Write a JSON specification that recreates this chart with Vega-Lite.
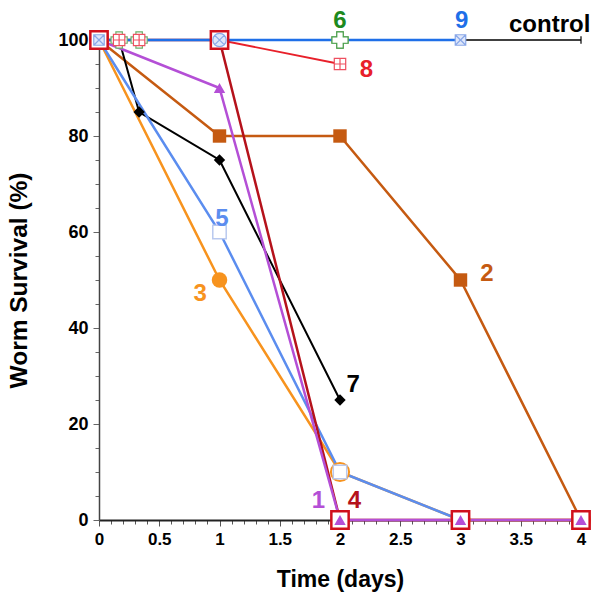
{
  "$schema": "https://vega.github.io/schema/vega-lite/v6.json",
  "width": 482,
  "height": 480,
  "autosize": "none",
  "padding": {"left": 99, "top": 40, "right": 21, "bottom": 78},
  "background": "white",
  "config": {"view": {"stroke": null}, "font": "Liberation Sans"},
  "datasets": {
    "control": [{"t": 0, "s": 100}, {"t": 4, "s": 100}],
    "s9": [{"t": 0, "s": 100}, {"t": 1, "s": 100}, {"t": 3, "s": 100}],
    "s6": [{"t": 0, "s": 100}, {"t": 0.167, "s": 100}, {"t": 0.333, "s": 100}, {"t": 2, "s": 100}],
    "s8": [{"t": 0, "s": 100}, {"t": 0.167, "s": 100}, {"t": 0.333, "s": 100}, {"t": 1, "s": 100}, {"t": 2, "s": 95}],
    "s2": [{"t": 0, "s": 100}, {"t": 1, "s": 80}, {"t": 2, "s": 80}, {"t": 3, "s": 50}, {"t": 4, "s": 0}],
    "s7": [{"t": 0, "s": 100}, {"t": 0.167, "s": 100}, {"t": 0.333, "s": 85}, {"t": 1, "s": 75}, {"t": 2, "s": 25}],
    "s5": [{"t": 0, "s": 100}, {"t": 1, "s": 60}, {"t": 2, "s": 10}, {"t": 3, "s": 0}],
    "s3": [{"t": 0, "s": 100}, {"t": 1, "s": 50}, {"t": 2, "s": 10}, {"t": 3, "s": 0}, {"t": 4, "s": 0}],
    "s1": [{"t": 0, "s": 100}, {"t": 1, "s": 90}, {"t": 2, "s": 0}, {"t": 3, "s": 0}, {"t": 4, "s": 0}],
    "s4": [{"t": 0, "s": 100}, {"t": 1, "s": 100}, {"t": 2, "s": 0}, {"t": 3, "s": 0}, {"t": 4, "s": 0}],
    "labels": [
      {"label": "6", "t": 2.0, "s": 102.5, "series": "6"},
      {"label": "9", "t": 3.01, "s": 102.5, "series": "9"},
      {"label": "control", "t": 3.74, "s": 101.7, "series": "control"},
      {"label": "8", "t": 2.22, "s": 92.3, "series": "8"},
      {"label": "2", "t": 3.22, "s": 49.8, "series": "2"},
      {"label": "7", "t": 2.11, "s": 26.7, "series": "7"},
      {"label": "5", "t": 1.02, "s": 61.3, "series": "5"},
      {"label": "3", "t": 0.84, "s": 45.6, "series": "3"},
      {"label": "1", "t": 1.82, "s": 2.4, "series": "1"},
      {"label": "4", "t": 2.12, "s": 2.4, "series": "4"}
    ]
  },
  "encoding": {
    "x": {
      "field": "t", "type": "quantitative",
      "scale": {"domain": [0, 4], "nice": false, "zero": false},
      "axis": {
        "title": "Time (days)",
        "values": [0, 0.1, 0.2, 0.3, 0.4, 0.5, 0.6, 0.7, 0.8, 0.9, 1, 1.1, 1.2, 1.3, 1.4, 1.5, 1.6, 1.7, 1.8, 1.9, 2, 2.1, 2.2, 2.3, 2.4, 2.5, 2.6, 2.7, 2.8, 2.9, 3, 3.1, 3.2, 3.3, 3.4, 3.5, 3.6, 3.7, 3.8, 3.9, 4],
        "labelExpr": "abs(datum.value*2 - round(datum.value*2)) < 0.001 ? '' + datum.value : ''",
        "tickSize": {"condition": {"test": "abs(datum.value*2 - round(datum.value*2)) < 0.001", "value": 6}, "value": 4},
        "grid": false,
        "domainColor": "#222222",
        "domainWidth": 1.8,
        "tickColor": "#555555",
        "labelFont": "Liberation Sans",
        "labelFontWeight": "bold",
        "labelFontSize": 17,
        "labelColor": "black",
        "labelPadding": 5,
        "labelFlush": false,
        "labelOverlap": false,
        "titleFont": "Liberation Sans",
        "titleFontWeight": "bold",
        "titleFontSize": 23,
        "titleColor": "black",
        "titleBaseline": "alphabetic",
        "titleY": 66
      }
    },
    "y": {
      "field": "s", "type": "quantitative",
      "scale": {"domain": [0, 100], "nice": false},
      "axis": {
        "title": "Worm Survival (%)",
        "values": [0, 5, 10, 15, 20, 25, 30, 35, 40, 45, 50, 55, 60, 65, 70, 75, 80, 85, 90, 95, 100],
        "labelExpr": "datum.value % 20 == 0 ? '' + datum.value : ''",
        "tickSize": {"condition": {"test": "datum.value % 20 == 0", "value": 6}, "value": 4},
        "grid": false,
        "domainColor": "#444444",
        "domainWidth": 1.5,
        "tickColor": "#666666",
        "labelFont": "Liberation Sans",
        "labelFontWeight": "bold",
        "labelFontSize": 18,
        "labelColor": "black",
        "labelPadding": 5,
        "labelFlush": false,
        "labelOverlap": false,
        "titleFont": "Liberation Sans",
        "titleFontWeight": "bold",
        "titleFontSize": 24.5,
        "titleColor": "black",
        "titleBaseline": "middle",
        "titleX": -80
      }
    }
  },
  "layer": [
    {"data": {"name": "control"}, "mark": {"type": "line", "color": "black", "strokeWidth": 1.5, "clip": false}},
    {"data": {"name": "s6"}, "mark": {"type": "line", "color": "#2e8b2e", "strokeWidth": 1.5, "clip": false}},
    {"data": {"name": "s8"}, "mark": {"type": "line", "color": "#e8202a", "strokeWidth": 1.8, "clip": false}},
    {"data": {"name": "s2"}, "mark": {"type": "line", "color": "#c55a11", "strokeWidth": 2.5, "clip": false}},
    {"data": {"name": "s7"}, "mark": {"type": "line", "color": "black", "strokeWidth": 2, "clip": false}},
    {"data": {"name": "s3"}, "mark": {"type": "line", "color": "#f7931e", "strokeWidth": 2.5, "clip": false}},
    {"data": {"name": "s5"}, "mark": {"type": "line", "color": "#5b8def", "strokeWidth": 2.5, "clip": false}},
    {"data": {"name": "s4"}, "mark": {"type": "line", "color": "#b5121b", "strokeWidth": 2.5, "clip": false}},
    {"data": {"name": "s1"}, "mark": {"type": "line", "color": "#b44fd6", "strokeWidth": 2.5, "clip": false}},
    {"data": {"name": "s9"}, "mark": {"type": "line", "color": "#1f6fe8", "strokeWidth": 2.5, "clip": false}},
    {"data": {"name": "control"}, "transform": [{"filter": "datum.t == 4"}], "mark": {"type": "point", "shape": "M0,-1V1", "size": 60, "stroke": "black", "strokeWidth": 1.2, "opacity": 1, "clip": false}},
    {"data": {"name": "s2"}, "transform": [{"filter": "datum.t > 0"}], "mark": {"type": "point", "shape": "square", "size": 180, "filled": true, "color": "#c55a11", "opacity": 1, "clip": false}},
    {"data": {"name": "s7"}, "transform": [{"filter": "datum.t > 0.2"}], "mark": {"type": "point", "shape": "diamond", "size": 130, "filled": true, "color": "black", "opacity": 1, "clip": false}},
    {"data": {"name": "s3"}, "transform": [{"filter": "datum.t != 1"}], "mark": {"type": "point", "shape": "circle", "size": 330, "fill": "white", "stroke": "#f7931e", "strokeWidth": 2, "opacity": 1, "clip": false}},
    {"data": {"name": "s3"}, "transform": [{"filter": "datum.t == 1"}], "mark": {"type": "point", "shape": "circle", "size": 240, "filled": true, "color": "#f7931e", "opacity": 1, "clip": false}},
    {"data": {"name": "s5"}, "transform": [{"filter": "datum.t > 0 && datum.t < 3"}], "mark": {"type": "point", "shape": "square", "size": 180, "fill": "white", "stroke": "#b9c9ef", "strokeWidth": 1.5, "opacity": 1, "clip": false}},
    {"data": {"name": "s4"}, "mark": {"type": "point", "shape": "square", "size": 300, "fill": "white", "stroke": "#d0101c", "strokeWidth": 2.5, "opacity": 1, "clip": false}},
    {"data": {"name": "s9"}, "transform": [{"filter": "datum.t != 1"}], "mark": {"type": "point", "shape": "M-1,-1H1V1H-1Z M-1,-1L1,1 M1,-1L-1,1", "size": 110, "fill": "#dfe7fa", "stroke": "#8aa8e8", "strokeWidth": 1.2, "opacity": 1, "clip": false}},
    {"data": {"name": "s9"}, "transform": [{"filter": "datum.t == 1"}], "mark": {"type": "point", "shape": "M-1,0A1,1 0 1,0 1,0A1,1 0 1,0 -1,0Z M-0.7,-0.7L0.7,0.7 M0.7,-0.7L-0.7,0.7", "size": 180, "fill": "#dfe7fa", "stroke": "#8aa8e8", "strokeWidth": 1.2, "opacity": 1, "clip": false}},
    {"data": {"name": "s6"}, "transform": [{"filter": "datum.t > 0"}], "mark": {"type": "point", "shape": "cross", "size": 260, "fill": "white", "stroke": "#6ab06a", "strokeWidth": 1.2, "opacity": 1, "clip": false}},
    {"data": {"name": "s8"}, "transform": [{"filter": "datum.t > 0 && datum.t != 1"}], "mark": {"type": "point", "shape": "M-1,-1H1V1H-1Z M-1,0H1 M0,-1V1", "size": 130, "fill": "white", "stroke": "#ee5060", "strokeWidth": 1.2, "opacity": 1, "clip": false}},
    {"data": {"name": "s6"}, "transform": [{"filter": "datum.t == 2"}], "mark": {"type": "point", "shape": "cross", "size": 260, "fill": "white", "stroke": "#4a9e4a", "strokeWidth": 1.2, "opacity": 1, "clip": false}},
    {"data": {"name": "s1"}, "transform": [{"filter": "datum.t > 0"}], "mark": {"type": "point", "shape": "triangle-up", "size": 130, "filled": true, "color": "#b44fd6", "opacity": 1, "clip": false}},
    {
      "data": {"name": "labels"},
      "mark": {"type": "text", "font": "Liberation Sans", "fontWeight": "bold", "fontSize": 24, "align": "center", "baseline": "alphabetic", "clip": false},
      "encoding": {
        "text": {"field": "label"},
        "color": {
          "field": "series", "type": "nominal", "legend": null,
          "scale": {
            "domain": ["6", "9", "control", "8", "2", "7", "5", "3", "1", "4"],
            "range": ["#1e8a1e", "#1f6fe8", "black", "#e8202a", "#c55a11", "black", "#5b8def", "#f7931e", "#b44fd6", "#b5121b"]
          }
        }
      }
    }
  ]
}
